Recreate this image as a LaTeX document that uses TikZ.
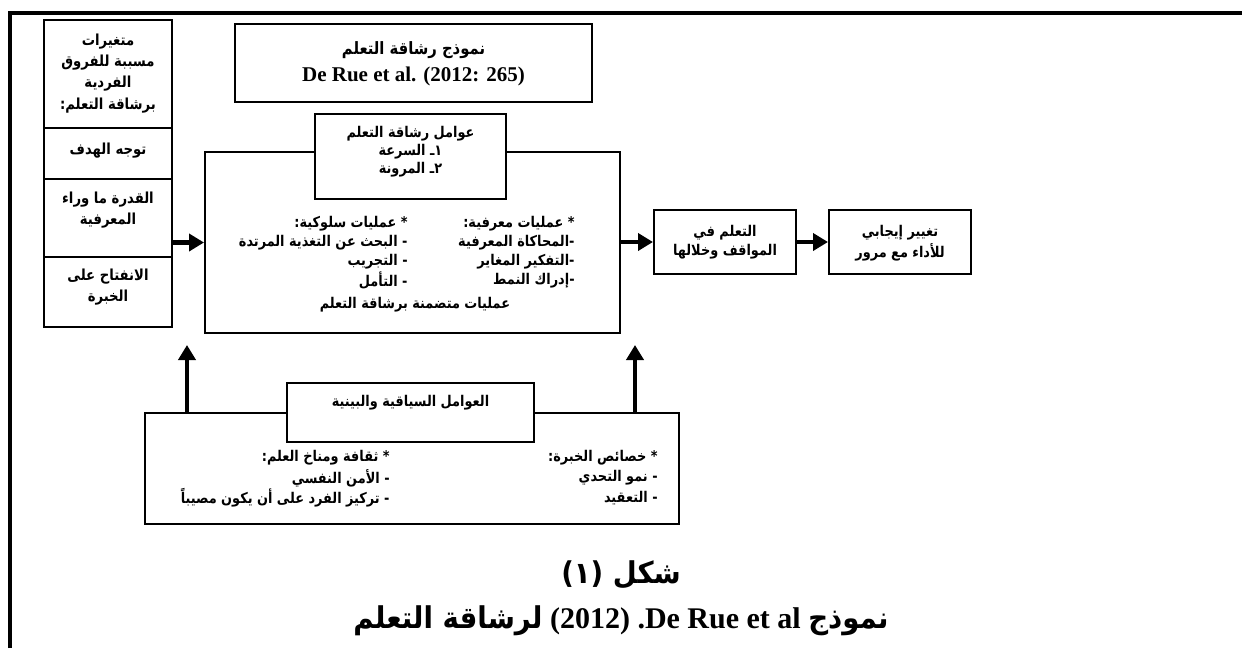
\documentclass[tikz,border=0pt]{standalone}
\usepackage{fontspec}
\setmainfont{Liberation Serif}
\newfontfamily\arfont[Script=Arabic,FakeStretch=0.87]{DejaVu Sans Bold}
\newfontfamily\arcapfont[Script=Arabic,FakeStretch=0.92]{DejaVu Sans Bold}
\TeXXeTstate=1
\usetikzlibrary{arrows.meta}
\newcommand{\artx}[1]{{\arfont\beginR #1\endR}}
\newcommand{\arcap}[1]{{\arcapfont\beginR #1\endR}}
\begin{document}
\begin{tikzpicture}[x=0.5pt,y=-0.5pt,
  box/.style={draw, line width=1pt, inner sep=0pt},
  arr/.style={line width=2.2pt, -{Triangle[length=7.5pt,width=8.5pt]}},
  tm/.style={inner sep=0pt, font=\fontsize{7.4}{9}\selectfont},
  tl/.style={inner sep=0pt, font=\fontsize{7.6}{10}\selectfont},
  tt/.style={inner sep=0pt, font=\fontsize{8.5}{10}\selectfont},
  tlat/.style={inner sep=0pt, font=\fontsize{10.5}{12}\selectfont\bfseries},
  tcap/.style={inner sep=0pt, font=\fontsize{15}{17}\selectfont}]
\useasboundingbox (0,0) rectangle (1242,648);
% outer frame
\draw[line width=2pt] (10,648) -- (10,13) -- (1242,13);

% left column
\node[box, minimum width=64pt, minimum height=153.5pt] (lcol) at (108,173.5) {};
\coordinate (d1) at (108,128);
\coordinate (d2) at (108,179);
\coordinate (d3) at (108,257);
\draw[line width=1pt] (lcol.west |- d1) -- (lcol.east |- d1);
\draw[line width=1pt] (lcol.west |- d2) -- (lcol.east |- d2);
\draw[line width=1pt] (lcol.west |- d3) -- (lcol.east |- d3);
\node[tl] (l1) at (108,42) {\artx{متغيرات}};
\node[tl] (l2) at (108,63) {\artx{مسببة للفروق}};
\node[tl] (l3) at (108,84) {\artx{الفردية}};
\node[tl] (l4) at (108,106) {\artx{برشاقة التعلم:}};
\node[tl] (l5) at (108,151) {\artx{توجه الهدف}};
\node[tl] (l6) at (108,200) {\artx{القدرة ما وراء}};
\node[tl] (l7) at (108,221) {\artx{المعرفية}};
\node[tl] (l8) at (108,277) {\artx{الانفتاح على}};
\node[tl] (l9) at (108,298) {\artx{الخبرة}};

% title box
\node[box, minimum width=178.5pt, minimum height=39pt] (title) at (413.5,63) {};
\node[tt] (t1) at (413.5,50) {\artx{نموذج رشاقة التعلم}};
\node[tlat] (t2) at (413.5,76) {De Rue et al. (2012: 265)};

% main box
\node[box, minimum width=207.5pt, minimum height=90.5pt] (main) at (412.5,242.5) {};
\node[box, fill=white, minimum width=95.5pt, minimum height=42.5pt] (fac) at (410.5,156.5) {};
\node[tm] (f1) at (410.5,134) {\artx{عوامل رشاقة التعلم}};
\node[tm] (f2) at (410.5,152) {\artx{١ـ السرعة}};
\node[tm] (f3) at (410.5,170) {\artx{٢ـ المرونة}};

\node[tm, anchor=east] (r1) at (575,224) {\artx{* عمليات معرفية:}};
\node[tm, anchor=east] (r2) at (575,243) {\artx{-المحاكاة المعرفية}};
\node[tm, anchor=east] (r3) at (575,262) {\artx{-التفكير المغاير}};
\node[tm, anchor=east] (r4) at (575,281) {\artx{-إدراك النمط}};
\node[tm, anchor=east] (s1) at (408,224) {\artx{* عمليات سلوكية:}};
\node[tm, anchor=east] (s2) at (408,243) {\artx{- البحث عن التغذية المرتدة}};
\node[tm, anchor=east] (s3) at (408,262) {\artx{- التجريب}};
\node[tm, anchor=east] (s4) at (408,281) {\artx{- التأمل}};
\node[tm] (m5) at (415,305) {\artx{عمليات متضمنة برشاقة التعلم}};

% outcome boxes
\node[box, minimum width=71pt, minimum height=32pt] (A) at (725,242) {};
\node[tm] (a1) at (725,233) {\artx{التعلم في}};
\node[tm] (a2) at (725,252) {\artx{المواقف وخلالها}};
\node[box, minimum width=71pt, minimum height=32pt] (B) at (900,242) {};
\node[tm] (b1) at (900,233) {\artx{تغيير إيجابي}};
\node[tm] (b2) at (900,252) {\artx{للأداء مع مرور}};

% bottom box
\node[box, minimum width=267pt, minimum height=55.5pt] (bot) at (412,468.5) {};
\node[box, fill=white, minimum width=123.5pt, minimum height=29.5pt] (btit) at (410.5,412.5) {};
\node[tm] (bt) at (410.5,403) {\artx{العوامل السياقية والبينية}};
\node[tm, anchor=east] (g1) at (390,458) {\artx{* ثقافة ومناخ العلم:}};
\node[tm, anchor=east] (g2) at (390,478) {\artx{- الأمن النفسي}};
\node[tm, anchor=east] (g3) at (390,498) {\artx{- تركيز الفرد على أن يكون مصيباً}};
\node[tm, anchor=east] (h1) at (658,458) {\artx{* خصائص الخبرة:}};
\node[tm, anchor=east] (h2) at (658,478) {\artx{- نمو التحدي}};
\node[tm, anchor=east] (h3) at (658,498) {\artx{- التعقيد}};

% arrows
\draw[arr] (lcol.east |- main.west) -- (main.west);
\draw[arr] (main.east |- A.west) -- (A.west);
\draw[arr] (A.east) -- (B.west);
\coordinate (u1) at (187,345);
\coordinate (u2) at (635,345);
\draw[arr] (bot.north -| u1) -- (u1);
\draw[arr] (bot.north -| u2) -- (u2);

% caption
\node[tcap] (c1) at (621,575) {\arcap{شكل (١)}};
\node[tcap] (c2) at (621,621) {\arcap{لرشاقة التعلم}\ \textbf{(2012) .De Rue et al}\ \arcap{نموذج}};
\end{tikzpicture}
\end{document}
